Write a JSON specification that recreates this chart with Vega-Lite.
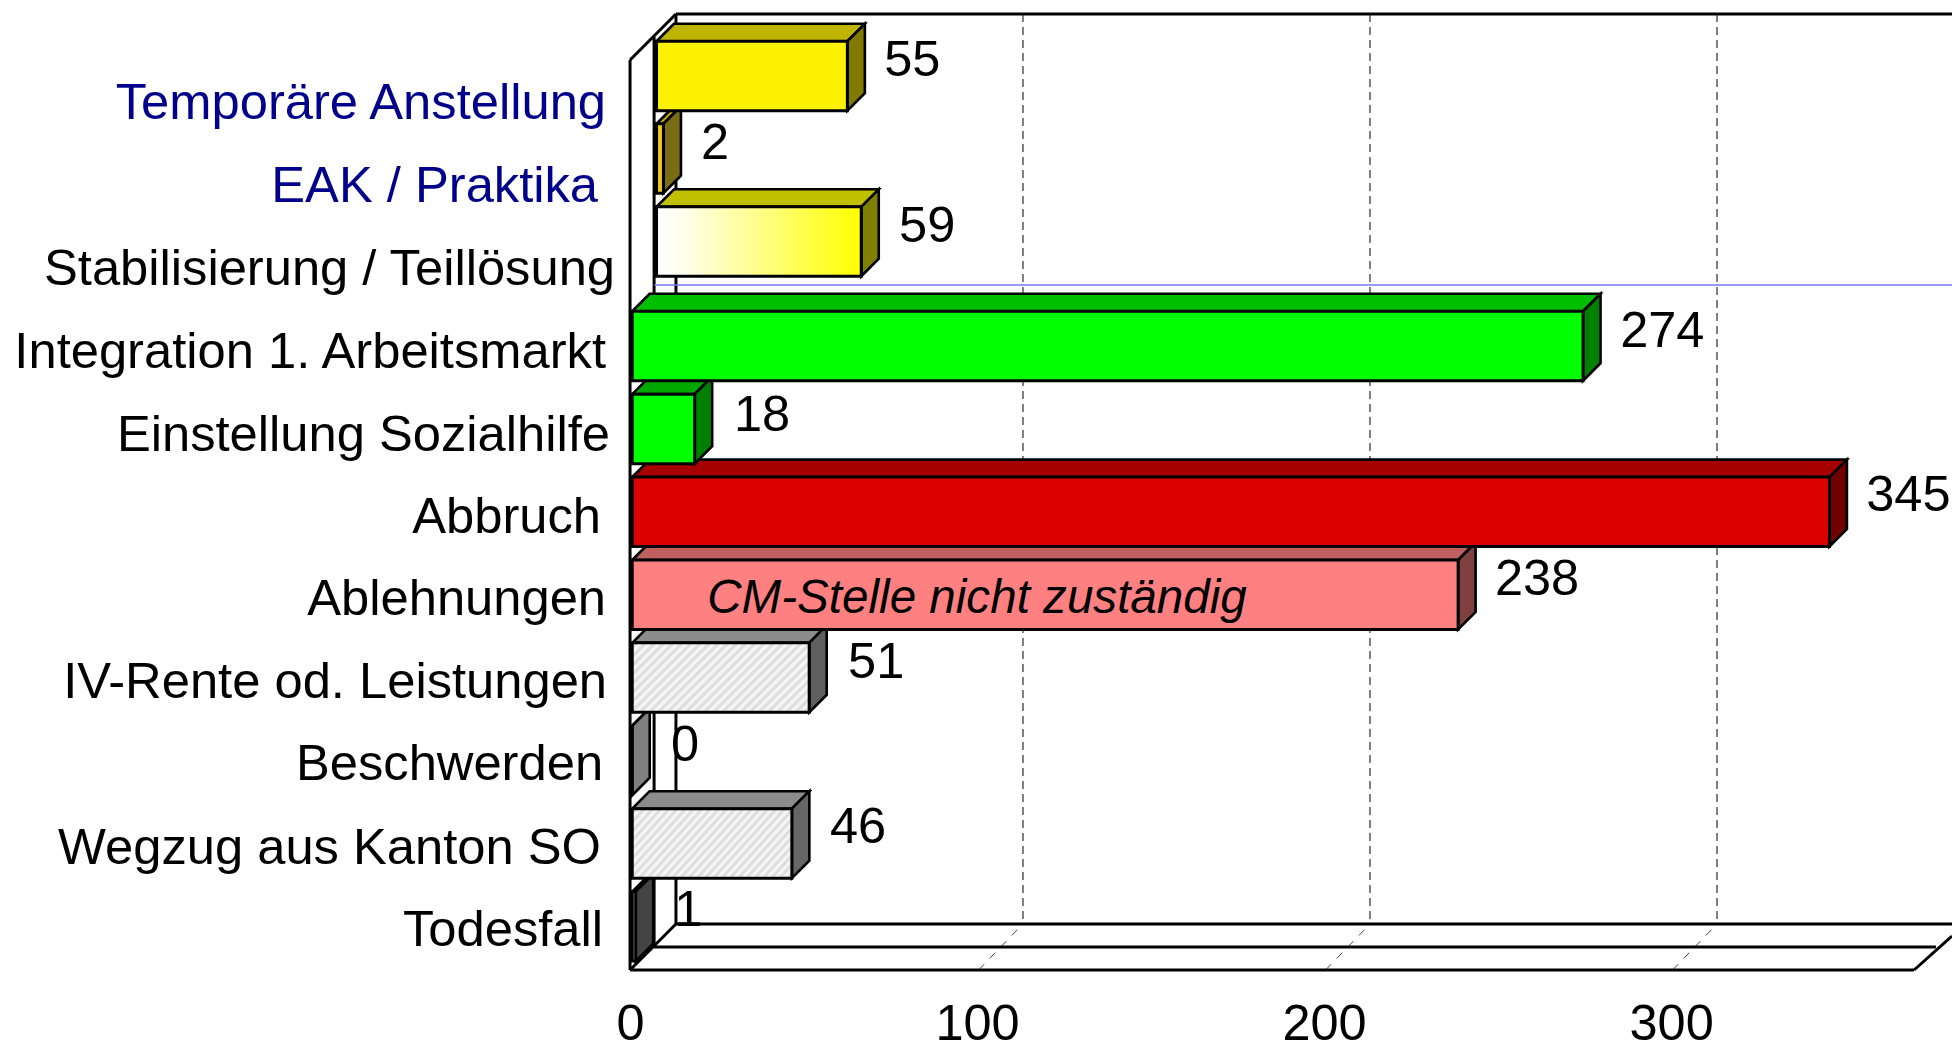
{"$schema":"https://vega.github.io/schema/vega-lite/v6.json","width":1952,"height":970,"autosize":"none","padding":{"left":0,"top":0,"right":0,"bottom":71},"background":"white",
"config":{"view":{"stroke":null},"text":{"font":"Liberation Sans"}},
"datasets":{
"bars":[
{"label":"Temporäre Anstellung","value":55,"kind":"solid","xa":7.2,"xb":62.2,"ya":-0.676,"yb":0.162,"lx":-7.35,"ly":0.084,"vx":72.8,"vy":-0.435},
{"label":"EAK / Praktika","value":2,"kind":"solid","xa":7.2,"xb":9.2,"ya":0.319,"yb":1.157,"lx":-9.65,"ly":1.085,"vx":20,"vy":0.565},
{"label":"Stabilisierung / Teillösung","value":59,"kind":"fade","xa":7.2,"xb":66.2,"ya":1.321,"yb":2.159,"lx":-4.75,"ly":2.085,"vx":77.1,"vy":1.565},
{"label":"Integration 1. Arbeitsmarkt","value":274,"kind":"solid","xa":0.2,"xb":274.2,"ya":2.581,"yb":3.419,"lx":-7.35,"ly":3.085,"vx":284.9,"vy":2.83},
{"label":"Einstellung Sozialhilfe","value":18,"kind":"solid","xa":0.2,"xb":18.2,"ya":3.581,"yb":4.419,"lx":-6.2,"ly":4.085,"vx":29.5,"vy":3.84},
{"label":"Abbruch","value":345,"kind":"solid","xa":0.2,"xb":345.2,"ya":4.581,"yb":5.419,"lx":-8.8,"ly":5.07,"vx":355.8,"vy":4.815},
{"label":"Ablehnungen","value":238,"kind":"solid","xa":0.2,"xb":238.2,"ya":5.581,"yb":6.419,"lx":-7.35,"ly":6.065,"vx":248.8,"vy":5.825},
{"label":"IV-Rente od. Leistungen","value":51,"kind":"hatch","xa":0.2,"xb":51.2,"ya":6.581,"yb":7.419,"lx":-7.06,"ly":7.07,"vx":62.4,"vy":6.82},
{"label":"Beschwerden","value":0,"kind":"solid","xa":0.2,"xb":0.2,"ya":7.581,"yb":8.419,"lx":-8.2,"ly":8.05,"vx":11.4,"vy":7.825},
{"label":"Wegzug aus Kanton SO","value":46,"kind":"hatch","xa":0.2,"xb":46.2,"ya":8.581,"yb":9.419,"lx":-8.8,"ly":9.07,"vx":57.2,"vy":8.82},
{"label":"Todesfall","value":1,"kind":"solid","xa":0.2,"xb":1.2,"ya":9.581,"yb":10.419,"lx":-8.2,"ly":10.055,"vx":12.3,"vy":9.815}
],
"tops":[
{"label":"Temporäre Anstellung","ya":-0.676,"xa":7.2,"xb":62.2},{"label":"Temporäre Anstellung","ya":-0.887,"xa":12.24,"xb":67.24},
{"label":"EAK / Praktika","ya":0.319,"xa":7.2,"xb":9.2},{"label":"EAK / Praktika","ya":0.108,"xa":12.24,"xb":14.24},
{"label":"Stabilisierung / Teillösung","ya":1.321,"xa":7.2,"xb":66.2},{"label":"Stabilisierung / Teillösung","ya":1.11,"xa":12.24,"xb":71.24},
{"label":"Integration 1. Arbeitsmarkt","ya":2.581,"xa":0.2,"xb":274.2},{"label":"Integration 1. Arbeitsmarkt","ya":2.37,"xa":5.24,"xb":279.24},
{"label":"Einstellung Sozialhilfe","ya":3.581,"xa":0.2,"xb":18.2},{"label":"Einstellung Sozialhilfe","ya":3.37,"xa":5.24,"xb":23.24},
{"label":"Abbruch","ya":4.581,"xa":0.2,"xb":345.2},{"label":"Abbruch","ya":4.37,"xa":5.24,"xb":350.24},
{"label":"Ablehnungen","ya":5.581,"xa":0.2,"xb":238.2},{"label":"Ablehnungen","ya":5.37,"xa":5.24,"xb":243.24},
{"label":"IV-Rente od. Leistungen","ya":6.581,"xa":0.2,"xb":51.2},{"label":"IV-Rente od. Leistungen","ya":6.37,"xa":5.24,"xb":56.24},
{"label":"Beschwerden","ya":7.581,"xa":0.2,"xb":0.2},{"label":"Beschwerden","ya":7.37,"xa":5.24,"xb":5.24},
{"label":"Wegzug aus Kanton SO","ya":8.581,"xa":0.2,"xb":46.2},{"label":"Wegzug aus Kanton SO","ya":8.37,"xa":5.24,"xb":51.24},
{"label":"Todesfall","ya":9.581,"xa":0.2,"xb":1.2},{"label":"Todesfall","ya":9.37,"xa":5.24,"xb":6.24}
],
"sides":[
{"label":"Temporäre Anstellung","xa":62.2,"ya":-0.676,"yb":0.162},{"label":"Temporäre Anstellung","xa":67.24,"ya":-0.887,"yb":-0.049},
{"label":"EAK / Praktika","xa":9.2,"ya":0.319,"yb":1.157},{"label":"EAK / Praktika","xa":14.24,"ya":0.108,"yb":0.946},
{"label":"Stabilisierung / Teillösung","xa":66.2,"ya":1.321,"yb":2.159},{"label":"Stabilisierung / Teillösung","xa":71.24,"ya":1.11,"yb":1.948},
{"label":"Integration 1. Arbeitsmarkt","xa":274.2,"ya":2.581,"yb":3.419},{"label":"Integration 1. Arbeitsmarkt","xa":279.24,"ya":2.37,"yb":3.208},
{"label":"Einstellung Sozialhilfe","xa":18.2,"ya":3.581,"yb":4.419},{"label":"Einstellung Sozialhilfe","xa":23.24,"ya":3.37,"yb":4.208},
{"label":"Abbruch","xa":345.2,"ya":4.581,"yb":5.419},{"label":"Abbruch","xa":350.24,"ya":4.37,"yb":5.208},
{"label":"Ablehnungen","xa":238.2,"ya":5.581,"yb":6.419},{"label":"Ablehnungen","xa":243.24,"ya":5.37,"yb":6.208},
{"label":"IV-Rente od. Leistungen","xa":51.2,"ya":6.581,"yb":7.419},{"label":"IV-Rente od. Leistungen","xa":56.24,"ya":6.37,"yb":7.208},
{"label":"Beschwerden","xa":0.2,"ya":7.581,"yb":8.419},{"label":"Beschwerden","xa":5.24,"ya":7.37,"yb":8.208},
{"label":"Wegzug aus Kanton SO","xa":46.2,"ya":8.581,"yb":9.419},{"label":"Wegzug aus Kanton SO","xa":51.24,"ya":8.37,"yb":9.208},
{"label":"Todesfall","xa":1.2,"ya":9.581,"yb":10.419},{"label":"Todesfall","xa":6.24,"ya":9.37,"yb":10.208}
],
"frame":[
{"seg":"frontwall","n":0,"xa":-0.43,"ya":-0.45},{"seg":"frontwall","n":1,"xa":-0.43,"ya":10.527},
{"seg":"diagtop","n":0,"xa":-0.43,"ya":-0.45},{"seg":"diagtop","n":1,"xa":12.8,"ya":-1.005},
{"seg":"backwall","n":0,"xa":12.8,"ya":-1.005},{"seg":"backwall","n":1,"xa":12.8,"ya":9.972},
{"seg":"top","n":0,"xa":12.8,"ya":-1.005},{"seg":"top","n":1,"xa":382,"ya":-1.005},
{"seg":"midwall","n":0,"xa":6.5,"ya":-0.727},{"seg":"midwall","n":1,"xa":6.5,"ya":10.25},
{"seg":"floordiag","n":0,"xa":-0.43,"ya":10.527},{"seg":"floordiag","n":1,"xa":12.8,"ya":9.972},
{"seg":"floorfront","n":0,"xa":-0.43,"ya":10.527},{"seg":"floorfront","n":1,"xa":369.6,"ya":10.527},
{"seg":"floormid","n":0,"xa":6.5,"ya":10.25},{"seg":"floormid","n":1,"xa":375.9,"ya":10.25},
{"seg":"floorback","n":0,"xa":12.8,"ya":9.972},{"seg":"floorback","n":1,"xa":382,"ya":9.972},
{"seg":"floorright","n":0,"xa":369.6,"ya":10.527},{"seg":"floorright","n":1,"xa":380.5,"ya":10.117}
],
"grid":[
{"seg":"g100","n":0,"xa":112.8,"ya":-1.005},{"seg":"g100","n":1,"xa":112.8,"ya":9.972},
{"seg":"g200","n":0,"xa":212.8,"ya":-1.005},{"seg":"g200","n":1,"xa":212.8,"ya":9.972},
{"seg":"g300","n":0,"xa":312.8,"ya":-1.005},{"seg":"g300","n":1,"xa":312.8,"ya":9.972}
],
"griddiag":[
{"seg":"d100","n":0,"xa":100,"ya":10.527},{"seg":"d100","n":1,"xa":112.8,"ya":9.972},
{"seg":"d200","n":0,"xa":200,"ya":10.527},{"seg":"d200","n":1,"xa":212.8,"ya":9.972},
{"seg":"d300","n":0,"xa":300,"ya":10.527},{"seg":"d300","n":1,"xa":312.8,"ya":9.972}
],
"blue":[{"seg":"b","n":0,"xa":6.5,"ya":2.264},{"seg":"b","n":1,"xa":382,"ya":2.264}],
"note":[{"text":"CM-Stelle nicht zuständig","xa":21.8,"ya":6.05}]
},
"encoding":{
"x":{"field":"xa","type":"quantitative","stack":null,"title":null,"scale":{"domain":[-181.99,380.52],"nice":false,"zero":false},"axis":{"values":[0,100,200,300],"domain":false,"ticks":false,"grid":false,"labelFont":"Liberation Sans","labelFontSize":50.5,"labelColor":"black","labelPadding":29,"labelOffset":-1.5,"labelFlush":false,"labelBound":false,"labelOverlap":false,"title":null}},
"y":{"field":"ya","type":"quantitative","stack":null,"title":null,"scale":{"domain":[10.527,-1.1737],"nice":false,"zero":false},"axis":null}
},
"layer":[
{"data":{"name":"grid"},"mark":{"type":"line","stroke":"#606060","strokeWidth":1.6,"strokeDash":[8,5]},"encoding":{"detail":{"field":"seg"},"order":{"field":"n"}}},
{"data":{"name":"griddiag"},"mark":{"type":"line","stroke":"#404040","strokeWidth":1,"strokeDash":[8,8]},"encoding":{"detail":{"field":"seg"},"order":{"field":"n"}}},
{"data":{"name":"frame"},"mark":{"type":"line","stroke":"black","strokeWidth":3},"encoding":{"detail":{"field":"seg"},"order":{"field":"n"}}},
{"data":{"name":"blue"},"mark":{"type":"line","stroke":"#7878f0","strokeWidth":1.5},"encoding":{"detail":{"field":"seg"},"order":{"field":"n"}}},
{"data":{"name":"tops"},"mark":{"type":"area","orient":"horizontal","stroke":"black","strokeWidth":2.6,"strokeJoin":"miter"},"encoding":{"x2":{"field":"xb"},"detail":{"field":"label"},"fill":{"field":"label","type":"nominal","legend":null,"scale":{"domain":["Temporäre Anstellung","EAK / Praktika","Stabilisierung / Teillösung","Integration 1. Arbeitsmarkt","Einstellung Sozialhilfe","Abbruch","Ablehnungen","IV-Rente od. Leistungen","Beschwerden","Wegzug aus Kanton SO","Todesfall"],"range":["#bfb500","#c9a800","#c0c000","#00bf00","#00a800","#a60000","#bf6060","#8c8c8c","#8c8c8c","#8c8c8c","#555555"]}}}},
{"data":{"name":"sides"},"mark":{"type":"area","orient":"vertical","stroke":"black","strokeWidth":2.6,"strokeJoin":"miter"},"encoding":{"y2":{"field":"yb"},"detail":{"field":"label"},"fill":{"field":"label","type":"nominal","legend":null,"scale":{"domain":["Temporäre Anstellung","EAK / Praktika","Stabilisierung / Teillösung","Integration 1. Arbeitsmarkt","Einstellung Sozialhilfe","Abbruch","Ablehnungen","IV-Rente od. Leistungen","Beschwerden","Wegzug aus Kanton SO","Todesfall"],"range":["#807a00","#7a6c14","#808000","#008000","#008000","#700000","#804040","#5f5f5f","#808080","#666666","#444444"]}}}},
{"data":{"name":"bars"},"transform":[{"filter":"datum.kind==='solid'"}],"mark":{"type":"rect","stroke":"black","strokeWidth":3},"encoding":{"x2":{"field":"xb"},"y2":{"field":"yb"},"fill":{"field":"label","type":"nominal","legend":null,"scale":{"domain":["Temporäre Anstellung","EAK / Praktika","Integration 1. Arbeitsmarkt","Einstellung Sozialhilfe","Abbruch","Ablehnungen","Beschwerden","Todesfall"],"range":["#fff200","#e8c81e","#00ff00","#00ff00","#dd0000","#ff8080","#888888","#cccccc"]}}}},
{"data":{"name":"bars"},"transform":[{"filter":"datum.kind==='fade'"}],"mark":{"type":"rect","stroke":"black","strokeWidth":3,"fill":{"gradient":"linear","x1":0,"y1":0,"x2":1,"y2":0,"stops":[{"offset":0,"color":"#ffffff"},{"offset":0.12,"color":"#fffff0"},{"offset":1,"color":"#ffff00"}]}},"encoding":{"x2":{"field":"xb"},"y2":{"field":"yb"}}},
{"data":{"name":"bars"},"transform":[{"filter":"datum.kind==='hatch'"}],"mark":{"type":"rect","stroke":"black","strokeWidth":3,"fill":{"gradient":"linear","x1":0,"y1":0,"x2":1.2068,"y2":0.4773,"stops":[{"offset":0,"color":"#fbfbfb"},{"offset":0.0185,"color":"#d8d8d8"},{"offset":0.037,"color":"#fbfbfb"},{"offset":0.0556,"color":"#d8d8d8"},{"offset":0.0741,"color":"#fbfbfb"},{"offset":0.0926,"color":"#d8d8d8"},{"offset":0.1111,"color":"#fbfbfb"},{"offset":0.1296,"color":"#d8d8d8"},{"offset":0.1481,"color":"#fbfbfb"},{"offset":0.1667,"color":"#d8d8d8"},{"offset":0.1852,"color":"#fbfbfb"},{"offset":0.2037,"color":"#d8d8d8"},{"offset":0.2222,"color":"#fbfbfb"},{"offset":0.2407,"color":"#d8d8d8"},{"offset":0.2593,"color":"#fbfbfb"},{"offset":0.2778,"color":"#d8d8d8"},{"offset":0.2963,"color":"#fbfbfb"},{"offset":0.3148,"color":"#d8d8d8"},{"offset":0.3333,"color":"#fbfbfb"},{"offset":0.3519,"color":"#d8d8d8"},{"offset":0.3704,"color":"#fbfbfb"},{"offset":0.3889,"color":"#d8d8d8"},{"offset":0.4074,"color":"#fbfbfb"},{"offset":0.4259,"color":"#d8d8d8"},{"offset":0.4444,"color":"#fbfbfb"},{"offset":0.463,"color":"#d8d8d8"},{"offset":0.4815,"color":"#fbfbfb"},{"offset":0.5,"color":"#d8d8d8"},{"offset":0.5185,"color":"#fbfbfb"},{"offset":0.537,"color":"#d8d8d8"},{"offset":0.5556,"color":"#fbfbfb"},{"offset":0.5741,"color":"#d8d8d8"},{"offset":0.5926,"color":"#fbfbfb"},{"offset":0.6111,"color":"#d8d8d8"},{"offset":0.6296,"color":"#fbfbfb"},{"offset":0.6481,"color":"#d8d8d8"},{"offset":0.6667,"color":"#fbfbfb"},{"offset":0.6852,"color":"#d8d8d8"},{"offset":0.7037,"color":"#fbfbfb"},{"offset":0.7222,"color":"#d8d8d8"},{"offset":0.7407,"color":"#fbfbfb"},{"offset":0.7593,"color":"#d8d8d8"},{"offset":0.7778,"color":"#fbfbfb"},{"offset":0.7963,"color":"#d8d8d8"},{"offset":0.8148,"color":"#fbfbfb"},{"offset":0.8333,"color":"#d8d8d8"},{"offset":0.8519,"color":"#fbfbfb"},{"offset":0.8704,"color":"#d8d8d8"},{"offset":0.8889,"color":"#fbfbfb"},{"offset":0.9074,"color":"#d8d8d8"},{"offset":0.9259,"color":"#fbfbfb"},{"offset":0.9444,"color":"#d8d8d8"},{"offset":0.963,"color":"#fbfbfb"},{"offset":0.9815,"color":"#d8d8d8"},{"offset":1,"color":"#fbfbfb"}]}},"encoding":{"x2":{"field":"xb"},"y2":{"field":"yb"}}},
{"data":{"name":"bars"},"mark":{"type":"text","align":"right","baseline":"middle","font":"Liberation Sans","fontSize":50.7},"encoding":{"x":{"field":"lx","type":"quantitative"},"y":{"field":"ly","type":"quantitative"},"text":{"field":"label"},"color":{"condition":{"test":"indexof(['Temporäre Anstellung','EAK / Praktika'],datum.label)>=0","value":"#00008b"},"value":"black"}}},
{"data":{"name":"bars"},"mark":{"type":"text","align":"left","baseline":"middle","font":"Liberation Sans","fontSize":50.5,"fill":"black"},"encoding":{"x":{"field":"vx","type":"quantitative"},"y":{"field":"vy","type":"quantitative"},"text":{"field":"value","type":"quantitative"}}},
{"data":{"name":"note"},"mark":{"type":"text","align":"left","baseline":"middle","font":"Liberation Sans","fontSize":47.6,"fontStyle":"italic","fill":"black"},"encoding":{"text":{"field":"text"}}}
],
"resolve":{"scale":{"fill":"independent"}}
}
